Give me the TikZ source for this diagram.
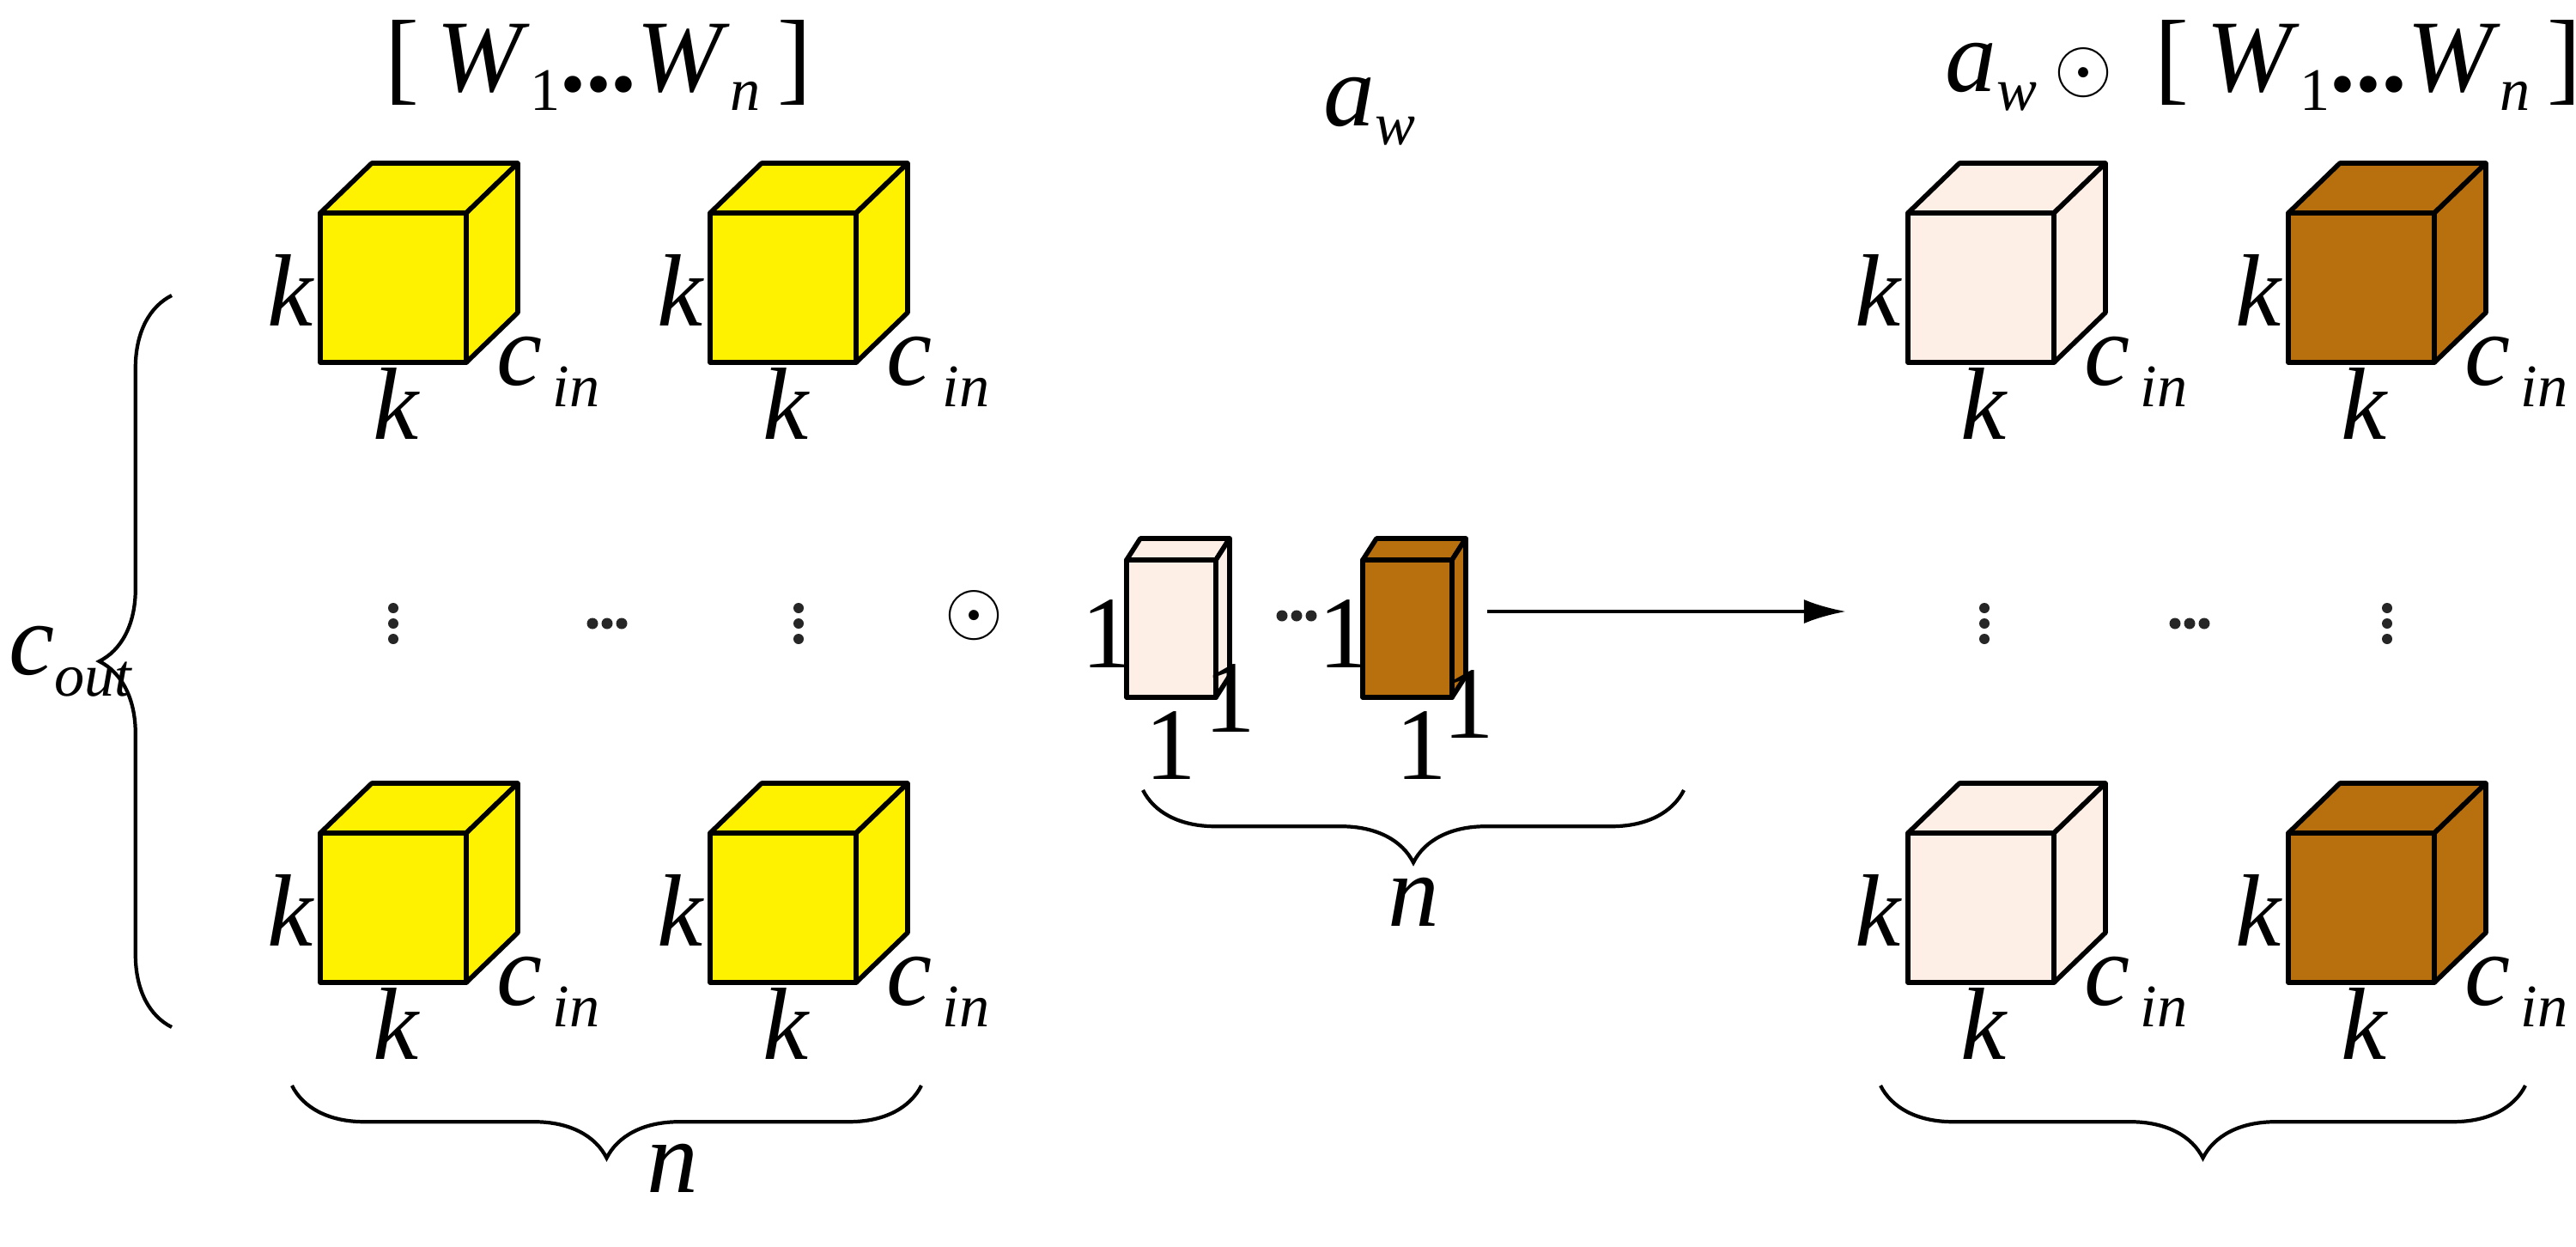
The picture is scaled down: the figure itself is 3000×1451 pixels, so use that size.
\documentclass[tikz,border=0pt]{standalone}
\usepackage{fontspec}
\setmainfont{Liberation Serif}
\usetikzlibrary{decorations.pathreplacing,arrows.meta}
\definecolor{pale}{HTML}{FDEFE6}
\definecolor{brn}{HTML}{B8700F}
\tikzset{
  face/.style={draw=black,line width=1.6pt,line join=round},
  lbl/.style={font=\fontsize{34}{34}\selectfont\itshape,inner sep=0pt},
  one/.style={font=\fontsize{34}{34}\selectfont,inner sep=0pt},
  dot/.style={fill=black!85},
  brc/.style={draw,line width=1.2pt,decoration={brace,amplitude=24pt},decorate}
}
\newcommand\bigcube[3]{%
  \fill[#3] (#1,#2) rectangle ++(170,174);
  \filldraw[face,fill=#3] (#1,#2) -- ++(60,-58) -- ++(170,0) -- ++(-60,58) -- cycle;
  \filldraw[face,fill=#3] (#1+170,#2) -- ++(60,-58) -- ++(0,174) -- ++(-60,58) -- cycle;
  \draw[face] (#1,#2) rectangle ++(170,174);
  \node[lbl] at (#1-35,#2+90) {k};
  \node[lbl] at (#1+88,#2+222) {k};
  \node[lbl,anchor=west] at (#1+205,#2+185) {c\raisebox{-0.45ex}{\fontsize{20}{20}\selectfont\,in}};
}
\newcommand\smallcube[3]{%
  \filldraw[face,fill=#3] (#1,#2) -- ++(16,-25) -- ++(104,0) -- ++(-16,25) -- cycle;
  \filldraw[face,fill=#3] (#1+104,#2) -- ++(16,-25) -- ++(0,160) -- ++(-16,25) -- cycle;
  \filldraw[face,fill=#3] (#1,#2) rectangle ++(104,160);
}
\newcommand\vdts[2]{\foreach \k in {-18,0,18} \fill[dot] (#1,#2+\k) circle (6);}
\newcommand\hdts[2]{\foreach \k in {-17,0,17} \fill[dot] (#1+\k,#2) circle (6.5);}
\begin{document}
\begin{tikzpicture}[x=0.01cm,y=-0.01cm]
\useasboundingbox (0,0) rectangle (3000,1451);
% left yellow cubes
\bigcube{373}{248}{yellow}
\bigcube{827}{248}{yellow}
\bigcube{373}{970}{yellow}
\bigcube{827}{970}{yellow}
% right cubes
\bigcube{2222}{248}{pale}
\bigcube{2665}{248}{brn}
\bigcube{2222}{970}{pale}
\bigcube{2665}{970}{brn}
% dots
\vdts{458}{726}\hdts{707}{726}\vdts{930}{726}
\vdts{2311}{726}\hdts{2550}{726}\vdts{2780}{726}
\hdts{1510}{717}
% odot
\node[inner sep=0pt,font=\fontsize{48}{48}\selectfont] (od) at (1135,717) {$\odot$};
% small cubes
\smallcube{1312}{652}{pale}
\smallcube{1587}{652}{brn}
\node[one] (o1) at (1289,738) {1};
\node[one] (o2) at (1363,868) {1};
\node[one] (o3) at (1432,813) {1};
\node[one] (o4) at (1565,738) {1};
\node[one] (o5) at (1655,868) {1};
\node[one] (o6) at (1710,820) {1};
% arrow
\coordinate (as) at (1732,712);
\coordinate (ae) at (2150,712);
\draw[line width=1.3pt,-{Latex[length=14pt,width=8pt]}] (as) -- (ae);
% titles
\node[lbl,font=\fontsize{34}{34}\selectfont] (t1) at (697,76) {[\,\textit{W}\raisebox{-0.4ex}{\fontsize{20}{20}\selectfont 1}\textbf{...}\textit{W}\raisebox{-0.4ex}{\fontsize{20}{20}\selectfont\itshape n}\,]};
\node[lbl] (t2) at (1595,130) {a\raisebox{-0.4ex}{\fontsize{20}{20}\selectfont w}};
\node[lbl,font=\fontsize{34}{34}\selectfont] (t3) at (2636,76) {\textit{a}\raisebox{-0.4ex}{\fontsize{20}{20}\selectfont\itshape w}\,$\odot$\, [\,\textit{W}\raisebox{-0.4ex}{\fontsize{20}{20}\selectfont 1}\textbf{...}\textit{W}\raisebox{-0.4ex}{\fontsize{20}{20}\selectfont\itshape n}\,]};
\node[lbl] (co) at (82,770) {c\raisebox{-0.45ex}{\fontsize{20}{20}\selectfont out}};
% braces
\coordinate (b1a) at (200,1196); \coordinate (b1b) at (200,344);
\draw[brc] (b1a) -- (b1b);
\coordinate (b2a) at (340,1264); \coordinate (b2b) at (1073,1264);
\draw[brc] (b2b) -- (b2a);
\node[lbl] (n1) at (783,1360) {n};
\coordinate (b3a) at (1331,920); \coordinate (b3b) at (1961,920);
\draw[brc] (b3b) -- (b3a);
\node[lbl] (n2) at (1646,1050) {n};
\coordinate (b4a) at (2190,1264); \coordinate (b4b) at (2941,1264);
\draw[brc] (b4b) -- (b4a);
\end{tikzpicture}
\end{document}
